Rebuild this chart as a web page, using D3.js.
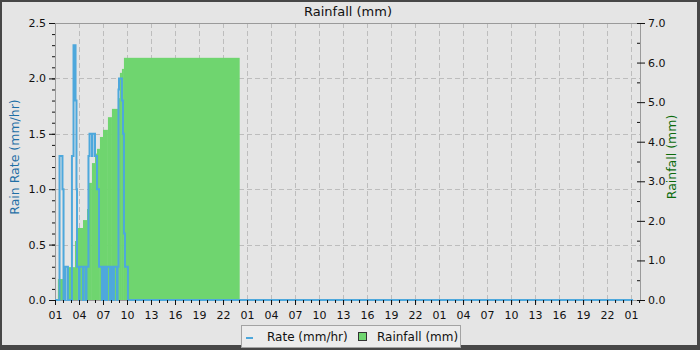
<!DOCTYPE html>
<html>
<head>
<meta charset="utf-8">
<script src="https://cdn.jsdelivr.net/npm/d3@7"></script>
<style>
  body { margin: 0; background: #fff; }
  text { font-family: "DejaVu Sans", sans-serif; }
</style>
</head>
<body>
<div id="chart"></div>
<script>
// Rain rate samples ("day HH:MM", mm/hr), drawn as a stepped line
var rateTimes = ["1 01:00", "1 01:34", "1 01:56", "1 02:04", "1 02:07", "1 02:15", "1 02:19", "1 02:37",
                 "1 03:07", "1 03:19", "1 03:34", "1 03:41", "1 03:45", "1 04:00", "1 04:04", "1 04:30",
                 "1 04:34", "1 04:52", "1 04:56", "1 05:11", "1 05:19", "1 05:37", "1 05:41", "1 06:00",
                 "1 06:15", "1 06:30", "1 06:52", "1 06:56", "1 07:07", "1 07:11", "1 07:22", "1 07:30",
                 "1 07:52", "1 07:56", "1 08:07", "1 08:22", "1 08:45", "1 08:49", "1 08:56", "1 09:00",
                 "1 09:22", "1 09:30", "1 09:37", "1 09:45", "1 10:07", "4 01:15"];
var rateValues = [0, 1.3, 1.0, 0, 0.3, 0, 0.3, 0,
                  1.3, 2.3, 1.8, 1.0, 0.3, 0, 0.3, 0,
                  0.3, 0, 0.3, 1.3, 1.5, 1.3, 1.5, 1.3,
                  1.0, 0.3, 0, 0.3, 0, 0.3, 0, 0.3,
                  0, 0.3, 0, 0.3, 0, 0.3, 1.9, 2.0,
                  1.8, 1.5, 0.6, 0.3, 0, 0];

// Daily rainfall total (mm); each bar runs until the next time, null = no bar
var rainTimes = ["1 01:22", "1 02:00", "1 02:30", "1 03:30", "1 03:52", "1 04:30", "1 05:00", "1 05:15",
                 "1 05:37", "1 06:00", "1 06:15", "1 06:37", "1 07:00", "1 07:37", "1 08:07", "1 08:52",
                 "1 09:07", "1 09:22", "1 09:37", "2 00:05"];
var rainTotals = [0.53, null, 0.83, 1.49, 1.82, 2.02, 2.30, 2.96,
                  3.46, 3.70, 3.82, 4.12, 4.30, 4.62, 4.83, 5.10,
                  5.74, 5.84, 6.12];

var rateTicks = [0, 0.5, 1.0, 1.5, 2.0, 2.5];
var rainTicks = [0, 1, 2, 3, 4, 5, 6, 7];
var timeStart = "1 01:00";
var timeEnd = "4 02:07";

var width = 700, height = 350;
var plotL = 55, plotR = 640, plotT = 23, plotB = 300;

function parseT(s) {
    var p = s.split(/[ :]/);
    return new Date(2024, 4, +p[0], +p[1], +p[2]);
}

var svg = d3.select("#chart").append("svg")
    .attr("width", width)
    .attr("height", height);

// Frame and background
svg.append("rect").attr("width", width).attr("height", height).attr("fill", "#474747");
svg.append("rect").attr("x", 2).attr("y", 2).attr("width", 695).attr("height", 343).attr("fill", "#e5e5e5");

// Scales
var x = d3.scaleTime().domain([parseT(timeStart), parseT(timeEnd)]).range([plotL, plotR]);
var yRate = d3.scaleLinear().domain([0, 2.5]).range([plotB, plotT]);
var yRain = d3.scaleLinear().domain([0, 7]).range([plotB, plotT]);

var hours = d3.timeHour.range(parseT(timeStart), parseT(timeEnd));
var majorHours = hours.filter(function(d, i) { return i % 3 === 0; });

// Grid lines
var grid = svg.append("g")
    .attr("stroke", "#bdbdbd")
    .attr("stroke-width", 1)
    .attr("stroke-dasharray", "5,3");

grid.selectAll("line.h")
    .data(rateTicks.filter(function(d) { return d > 0 && d < 2.5; }))
    .enter().append("line")
    .attr("x1", plotL).attr("x2", plotR)
    .attr("y1", function(d) { return Math.round(yRate(d)) + 0.5; })
    .attr("y2", function(d) { return Math.round(yRate(d)) + 0.5; });

grid.selectAll("line.v")
    .data(majorHours.slice(1))
    .enter().append("line")
    .attr("y1", plotT).attr("y2", plotB)
    .attr("x1", function(d) { return Math.round(x(d)) + 0.5; })
    .attr("x2", function(d) { return Math.round(x(d)) + 0.5; });

// Rainfall bars
var rainData = [];
for (var i = 0; i < rainTotals.length; i++) {
    if (rainTotals[i] !== null) {
        rainData.push({ t0: parseT(rainTimes[i]), t1: parseT(rainTimes[i + 1]), v: rainTotals[i] });
    }
}
svg.append("g").selectAll("rect")
    .data(rainData)
    .enter().append("rect")
    .attr("x", function(d) { return x(d.t0); })
    .attr("width", function(d) { return x(d.t1) - x(d.t0); })
    .attr("y", function(d) { return yRain(d.v); })
    .attr("height", function(d) { return plotB - yRain(d.v); })
    .attr("fill", "#6fd56f");

// Rain rate line
var rateData = rateTimes.map(function(t, i) { return { t: parseT(t), v: rateValues[i] }; });
var line = d3.line()
    .x(function(d) { return x(d.t); })
    .y(function(d) { return yRate(d.v); })
    .curve(d3.curveStepAfter);

// Plot frame
svg.append("rect")
    .attr("x", plotL + 0.5).attr("y", plotT + 0.5)
    .attr("width", plotR - plotL).attr("height", plotB - plotT)
    .attr("fill", "none")
    .attr("stroke", "#9a9a9a");

svg.append("path")
    .datum(rateData)
    .attr("d", line)
    .attr("fill", "none")
    .attr("stroke", "#4ea8dc")
    .attr("stroke-width", 2);

// Axes
var fontSize = "11px";

var xAxis = d3.axisBottom(x)
    .tickValues(majorHours)
    .tickSize(5)
    .tickPadding(6)
    .tickFormat(d3.timeFormat("%H"));
var gx = svg.append("g").attr("transform", "translate(0," + plotB + ")").call(xAxis);

var xMinor = d3.axisBottom(x).tickValues(hours).tickSize(3).tickFormat("");
var gxm = svg.append("g").attr("transform", "translate(0," + plotB + ")").call(xMinor);

var yAxisL = d3.axisLeft(yRate)
    .tickValues(rateTicks)
    .tickSize(6)
    .tickPadding(3)
    .tickFormat(d3.format(".1f"));
var gl = svg.append("g").attr("transform", "translate(" + plotL + ",0)").call(yAxisL);

var yMinorL = d3.axisLeft(yRate).tickValues(yRate.ticks(25)).tickSize(3).tickFormat("");
var glm = svg.append("g").attr("transform", "translate(" + plotL + ",0)").call(yMinorL);

var yAxisR = d3.axisRight(yRain)
    .tickValues(rainTicks)
    .tickSize(5)
    .tickPadding(3)
    .tickFormat(d3.format(".1f"));
var gr = svg.append("g").attr("transform", "translate(" + plotR + ",0)").call(yAxisR);

var yMinorR = d3.axisLeft(yRain).tickValues(yRain.ticks(14)).tickSize(3).tickFormat("");
var grm = svg.append("g").attr("transform", "translate(" + plotR + ",0)").call(yMinorR);

[gx, gxm, gl, glm, gr, grm].forEach(function(g) {
    g.select(".domain").remove();
    g.selectAll("line").attr("stroke", "#111");
    g.selectAll("text")
        .attr("fill", "#111")
        .style("font-size", fontSize)
        .style("font-family", "DejaVu Sans");
});

// Titles
svg.append("text")
   .attr("x", 348)
   .attr("y", 16)
   .attr("text-anchor", "middle")
   .attr("font-size", "13px")
   .attr("fill", "#111")
   .text("Rainfall (mm)");

svg.append("text")
   .attr("transform", "translate(19,157) rotate(-90)")
   .attr("text-anchor", "middle")
   .attr("font-size", "12.5px")
   .attr("fill", "#1f6fa6")
   .text("Rain Rate (mm/hr)");

svg.append("text")
   .attr("transform", "translate(676,157) rotate(-90)")
   .attr("text-anchor", "middle")
   .attr("font-size", "12.5px")
   .attr("fill", "#0b6b0b")
   .text("Rainfall (mm)");

// Legend
var legend = svg.append("g");
legend.append("rect")
    .attr("x", 241.5).attr("y", 325.5)
    .attr("width", 219).attr("height", 22)
    .attr("fill", "#ececec")
    .attr("stroke", "#a3a3a3");
legend.append("line")
    .attr("x1", 246).attr("x2", 253)
    .attr("y1", 338).attr("y2", 338)
    .attr("stroke", "#4ea8dc").attr("stroke-width", 2);
legend.append("text")
    .attr("x", 267).attr("y", 341)
    .attr("font-size", "12px").attr("fill", "#111")
    .text("Rate (mm/hr)");
legend.append("rect")
    .attr("x", 358.5).attr("y", 332.5)
    .attr("width", 8).attr("height", 8)
    .attr("fill", "#6fd56f").attr("stroke", "#333");
legend.append("text")
    .attr("x", 377).attr("y", 341)
    .attr("font-size", "12px").attr("fill", "#111")
    .text("Rainfall (mm)");
</script>
</body>
</html>
